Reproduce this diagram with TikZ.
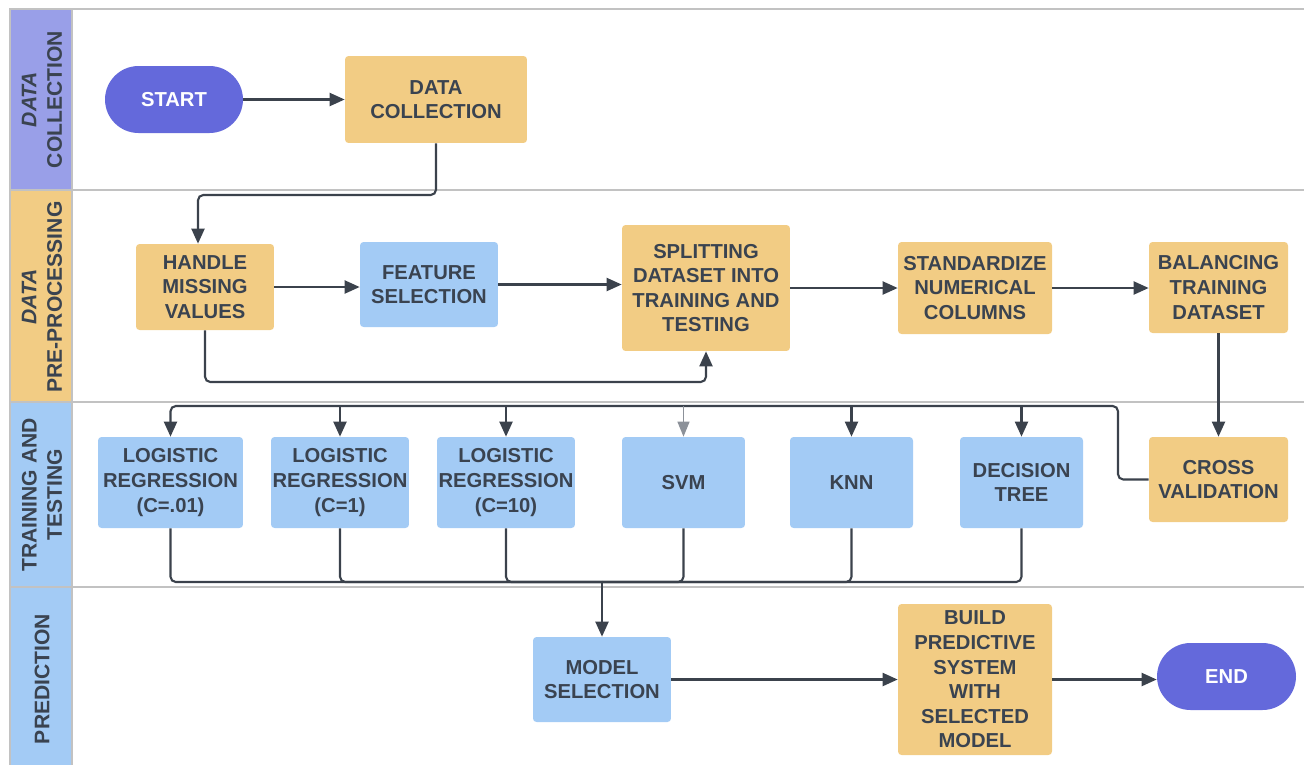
\documentclass[tikz,border=0pt]{standalone}
\usepackage{fontspec}
\setmainfont{Liberation Sans}
\usetikzlibrary{arrows.meta}
\definecolor{grille}{HTML}{C2C2C2}
\definecolor{texte}{HTML}{3A4350}
\definecolor{trait}{HTML}{3B424C}
\definecolor{traitclair}{HTML}{8C9199}
\definecolor{violettete}{HTML}{999FE8}
\definecolor{violetbox}{HTML}{6469DB}
\definecolor{jaunebox}{HTML}{F2CC84}
\definecolor{bleubox}{HTML}{A3CBF5}
\begin{document}
\begin{tikzpicture}[x=0.02cm, y=-0.02cm,
    boite/.style={rounded corners=2pt, inner sep=0pt, align=center, text=texte,
      font=\bfseries\fontsize{11.5}{14}\selectfont},
    jaune/.style={boite, fill=jaunebox},
    bleu/.style={boite, fill=bleubox},
    terminal/.style={boite, fill=violetbox, text=white, minimum width=2.76cm,
      minimum height=1.34cm, rounded corners=0.67cm},
    ligne/.style={draw=trait, line width=1.2pt, rounded corners=3pt},
    fleche/.style={ligne, -{Triangle[length=3mm, width=2.6mm]}},
    flechefine/.style={draw=traitclair, line width=0.7pt, -{Triangle[length=3mm, width=2.4mm]}},
    entete/.style={rotate=90, align=center, text=texte,
      font=\bfseries\fontsize{12}{14.5}\selectfont},
    cadre/.style={draw=grille, line width=0.8pt}]
  \useasboundingbox (0,0) rectangle (1304,765);

  % Couloirs
  \fill[violettete] (10,9) rectangle (72,190);
  \fill[jaunebox] (10,190) rectangle (72,402);
  \fill[bleubox] (10,402) rectangle (72,765);
  \draw[cadre] (1304,9) -- (10,9) -- (10,765);
  \draw[cadre] (72,9) -- (72,765);
  \foreach \y in {190,402,587} \draw[cadre] (10,\y) -- (1304,\y);

  \node[entete] (tcollecte) at (42,99.5) {\textit{DATA}\\COLLECTION};
  \node[entete] (tpretraitement) at (42,297) {\textit{DATA}\\PRE-PROCESSING};
  \node[entete] (tentrainement) at (42,495) {TRAINING AND\\TESTING};
  \node[entete] (tprediction) at (42,679) {PREDICTION};

  % Etapes
  \node[terminal] (debut) at (174,99.5) {START};
  \node[jaune, minimum width=3.64cm, minimum height=1.74cm] (collecte) at (436,99.5) {DATA\\COLLECTION};

  \node[jaune, minimum width=2.76cm, minimum height=1.72cm] (manquant) at (205,287) {HANDLE\\MISSING\\VALUES};
  \node[bleu, minimum width=2.76cm, minimum height=1.70cm] (selection) at (429,284.5) {FEATURE\\SELECTION};
  \node[jaune, minimum width=3.36cm, minimum height=2.52cm] (decoupe) at (706,288) {SPLITTING\\DATASET INTO\\TRAINING AND\\TESTING};
  \node[jaune, minimum width=3.08cm, minimum height=1.84cm] (standard) at (975,288) {STANDARDIZE\\NUMERICAL\\COLUMNS};
  \node[jaune, minimum width=2.78cm, minimum height=1.82cm] (equilibre) at (1218.5,287.5) {BALANCING\\TRAINING\\DATASET};

  \node[jaune, minimum width=2.78cm, minimum height=1.70cm] (validation) at (1218.5,479.5) {CROSS\\VALIDATION};
  \node[bleu, minimum width=2.90cm, minimum height=1.82cm] (lr1) at (170.5,482.5) {LOGISTIC\\REGRESSION\\(C=.01)};
  \node[bleu, minimum width=2.76cm, minimum height=1.82cm] (lr2) at (340,482.5) {LOGISTIC\\REGRESSION\\(C=1)};
  \node[bleu, minimum width=2.76cm, minimum height=1.82cm] (lr3) at (506,482.5) {LOGISTIC\\REGRESSION\\(C=10)};
  \node[bleu, minimum width=2.46cm, minimum height=1.82cm] (svm) at (683.5,482.5) {SVM};
  \node[bleu, minimum width=2.46cm, minimum height=1.82cm] (knn) at (851.5,482.5) {KNN};
  \node[bleu, minimum width=2.46cm, minimum height=1.82cm] (arbre) at (1021.5,482.5) {DECISION\\TREE};

  \node[bleu, minimum width=2.76cm, minimum height=1.70cm] (choix) at (602,679.5) {MODEL\\SELECTION};
  \node[jaune, minimum width=3.08cm, minimum height=3.02cm] (systeme) at (975,679.5) {BUILD\\PREDICTIVE\\SYSTEM\\WITH\\SELECTED\\MODEL};
  \node[terminal, minimum width=2.78cm] (fin) at (1226.5,676.5) {END};

  % Liaisons
  \coordinate (coude) at (0,195);
  \coordinate (retour) at (0,382);
  \coordinate (bus) at (1118,406);
  \coordinate (jonction) at (602,582);

  \draw[fleche] (debut) -- (collecte);
  \draw[fleche] (collecte.south) -- (collecte.south |- coude) -| ([xshift=-0.14cm]manquant.north);
  \draw[fleche] (manquant.east) -- (manquant.east -| selection.west);
  \draw[fleche] (selection.east) -- (selection.east -| decoupe.west);
  \draw[fleche] (manquant.south) -- (manquant.south |- retour) -| (decoupe.south);
  \draw[fleche] (decoupe.east) -- (decoupe.east -| standard.west);
  \draw[fleche] (standard.east) -- (standard.east -| equilibre.west);
  \draw[fleche] (equilibre) -- (validation);

  \draw[fleche] (validation.west) -| (bus) -| (lr1.north);
  \foreach \n in {lr2,lr3,knn,arbre} \draw[fleche] (\n.north |- bus) -- (\n.north);
  \draw[flechefine] (svm.north |- bus) -- (svm.north);

  \foreach \n in {lr1,lr2,lr3,svm,knn,arbre} \draw[ligne] (\n.south) |- (jonction);
  \draw[fleche] (jonction) -- (choix.north);
  \draw[fleche] (choix.east) -- (choix.east -| systeme.west);
  \draw[fleche] (systeme.east) -- (systeme.east -| fin.west);
\end{tikzpicture}
\end{document}
